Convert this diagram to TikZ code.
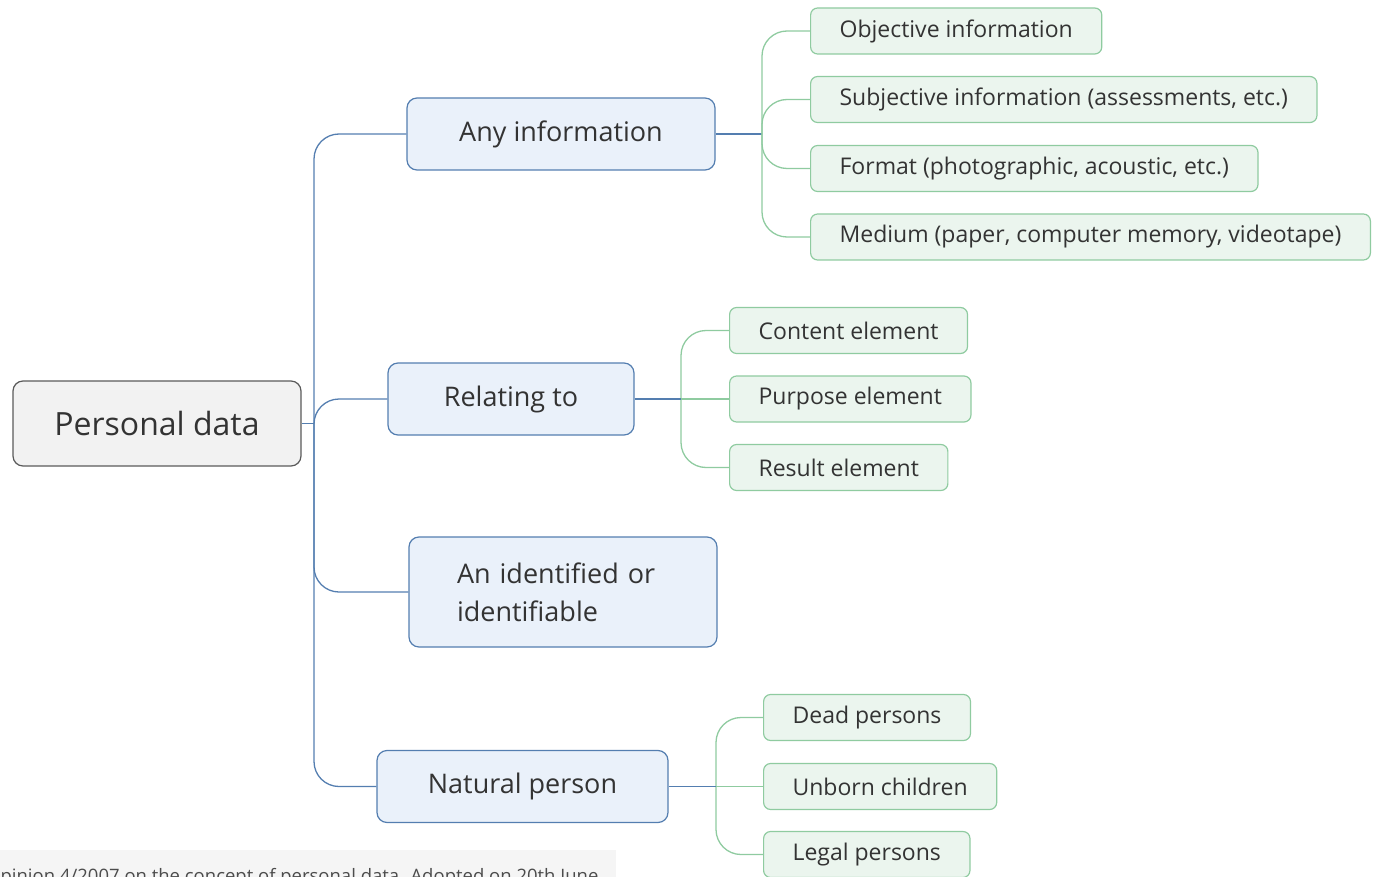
\documentclass[tikz,border=0pt]{standalone}
\usepackage{fontspec}
\setmainfont{Open Sans}
\usetikzlibrary{positioning}
\definecolor{RootFill}{RGB}{242, 242, 242}
\definecolor{RootLine}{RGB}{90, 90, 90}
\definecolor{TopicFill}{RGB}{234, 241, 250}
\definecolor{TopicLine}{RGB}{84, 126, 176}
\definecolor{LeafFill}{RGB}{235, 245, 238}
\definecolor{LeafLine}{RGB}{143, 203, 160}
\definecolor{InkGray}{RGB}{51, 51, 51}

\begin{document}
\begin{tikzpicture}[x=1pt, y=-1pt,
    every node/.style={text=InkGray},
    root/.style={draw=RootLine, fill=RootFill, line width=1.2pt, rounded corners=10pt,
                 minimum width=288pt, minimum height=85pt, font=\fontsize{32}{38}\selectfont},
    topic/.style={draw=TopicLine, fill=TopicFill, line width=1.2pt, rounded corners=10pt,
                  minimum height=72pt, font=\fontsize{27}{38}\selectfont},
    leaf/.style={draw=LeafLine, fill=LeafFill, line width=1.2pt, rounded corners=7pt,
                 anchor=west, inner xsep=29pt, minimum height=46pt, font=\fontsize{23}{27}\selectfont},
    blueline/.style={draw=TopicLine, line width=1.3pt, rounded corners=25pt},
    greenline/.style={draw=LeafLine, line width=1.3pt, rounded corners=25pt}]
    \useasboundingbox (0,0) rectangle (1383,877);
    \clip (0,0) rectangle (1383,877);

    % main topics
    \node[root] (pd) at (157,423.5) {Personal data};
    \node[topic, minimum width=308pt] (info) at (561,134) {Any information};
    \node[topic, minimum width=246pt] (rel) at (511,399) {Relating to};
    \node[topic, minimum width=308pt, minimum height=110pt, text width=212pt,
          inner xsep=48pt, align=left] (ident) at (563,592) {An identified or\\identifiable};
    \node[topic, minimum width=291pt] (nat) at (522.5,786.5) {Natural person};

    % leaves
    \node[leaf] (obj) at (810,31) {Objective information};
    \node[leaf] (subj) at (810,99.5) {Subjective information (assessments, etc.)};
    \node[leaf] (fmt) at (810,168.5) {Format (photographic, acoustic, etc.)};
    \node[leaf] (med) at (810,237) {Medium (paper, computer memory, videotape)};
    \node[leaf] (cont) at (729,330.5) {Content element};
    \node[leaf] (purp) at (729,399) {Purpose element};
    \node[leaf] (res) at (729,467.5) {Result element};
    \node[leaf] (dead) at (763,717.5) {Dead persons};
    \node[leaf] (unborn) at (763,786.5) {Unborn children};
    \node[leaf] (legal) at (763,854.5) {Legal persons};

    % branch points
    \coordinate (trunk) at (314,423.5);
    \coordinate (infoj) at (762,134);
    \coordinate (relj) at (681,399);
    \coordinate (natj) at (716,786.5);

    % blue connectors
    \draw[blueline] (pd.east) -- (trunk);
    \foreach \t in {info, rel, ident, nat}
        \draw[blueline] (trunk) |- (\t.west);
    \draw[blueline] (info.east) -- (infoj);

    % green connectors
    \foreach \l in {obj, subj, fmt, med}
        \draw[greenline] (infoj) |- (\l.west);
    \foreach \l in {cont, res}
        \draw[greenline] (relj) |- (\l.west);
    \draw[greenline] (relj) -- (purp.west);
    \foreach \l in {dead, legal}
        \draw[greenline] (natj) |- (\l.west);
    \draw[greenline] (natj) -- (unborn.west);
    \draw[blueline] (rel.east) -- (relj);
    \draw[blueline] (nat.east) -- (natj);

    % caption strip
    \fill[black!4] (0,850) rectangle (616,877);
    \node[anchor=base west, inner sep=0pt, text=black!70, font=\fontsize{18.5}{22}\selectfont] (cap) at (-14,882)
        {Opinion 4/2007 on the concept of personal data. Adopted on 20th June};
\end{tikzpicture}
\end{document}
